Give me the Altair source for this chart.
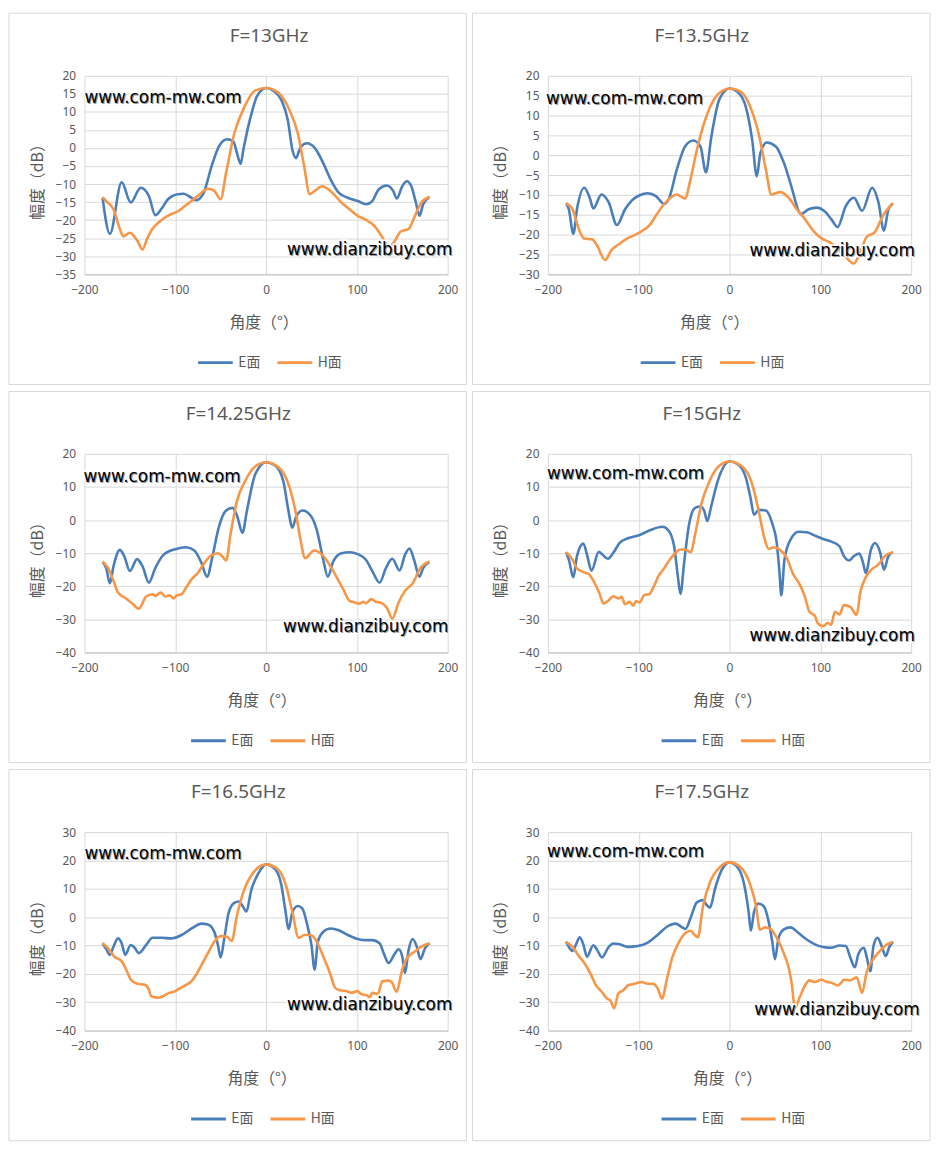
import altair as alt
import pandas as pd

# ---- measured radiation patterns (angle in degrees, gain in dB) ----
# F=13GHz
E13_ANG = [-180, -172, -159, -149, -138, -129, -122, -115, -108, -97, -91, -82, -77, -69, -60, -52, -43, -36, -32, -28,
           -25, -17, -10, 0, 8, 17, 24, 29, 33, 38, 45, 54, 63, 72, 80, 90, 101, 110, 117, 124,
           133, 140, 144, 150, 155, 160, 165, 169, 173, 180]
E13_DB = [-13.8, -23.8, -9.5, -15.1, -11, -13.3, -18.6, -16.8, -14.2, -12.8, -12.7, -13.8, -14.5, -12.6, -5.1, 0.4, 2.4, 1.8, -1.4, -4.4,
          -0.5, 8.6, 14.3, 16.6, 15.9, 13.2, 7.7, -0.5, -2.8, 0.2, 1.3, -0.1, -4.2, -9.2, -12.4, -13.8, -14.7, -15.6, -14.7, -11.5,
          -10.4, -11.9, -14, -10.6, -9.2, -10.6, -15.1, -18.8, -15.6, -13.6]
H13_ANG = [-180, -176, -168, -161, -157, -150, -142, -136, -131, -125, -118, -111, -104, -96, -89, -82, -73, -64, -57, -50,
           -44, -35, -24, -12, 0, 13, 26, 35, 42, 48, 53, 62, 72, 83, 92, 101, 110, 119, 128, 135,
           141, 148, 157, 164, 171, 180]
H13_DB = [-13.6, -14.7, -17, -22.4, -24.5, -23.5, -25.6, -28.1, -25.2, -22.4, -20.6, -19.2, -18.3, -17.4, -16, -14.7, -12.8, -11.3, -11.9, -14.2,
          -6.9, 4, 11.3, 15.9, 16.6, 15.4, 10.4, 4, -5.1, -12.8, -12, -10.6, -12.2, -15.1, -17, -18.8, -19.9, -21.5, -24.7, -27.4,
          -26.1, -23.2, -22.4, -18.8, -15.1, -13.6]

# F=13.5GHz
E135_ANG = [-180, -177, -172, -168, -160, -154, -150, -141, -133, -124, -115, -108, -99, -90, -81, -72, -67, -58, -49, -40,
            -32, -26, -20, -11, 0, 9, 18, 25, 30, 34, 41, 51, 60, 69, 76, 79, 87, 96, 105, 112,
            119, 128, 137, 146, 157, 164, 170, 175, 180]
E135_DB = [-12.1, -13.6, -19.8, -13.6, -8.2, -10.7, -13.4, -9.9, -11.9, -17.6, -13.6, -11.5, -10.1, -9.6, -10.3, -12.3, -11.1, -3.6, 2.2, 3.7,
           2.2, -4.3, 4.7, 14.2, 16.8, 15.9, 12.1, 3.8, -5.3, 0.5, 3.2, 2.2, -2, -8.6, -14, -14.8, -13.6, -13.2, -14.2, -16.1,
           -18.1, -12.8, -10.7, -14, -8.2, -11.9, -19, -13.6, -12.1]
H135_ANG = [-180, -173, -166, -160, -151, -146, -137, -130, -121, -112, -105, -97, -88, -81, -72, -65, -58, -49, -43, -36,
            -27, -14, 0, 13, 23, 32, 40, 46, 56, 65, 74, 83, 92, 101, 110, 119, 128, 137, 144, 151,
            160, 169, 180]
H135_DB = [-12.1, -13.6, -18.6, -21, -21.2, -22.7, -26.4, -23.9, -22.3, -20.9, -20.2, -19.2, -17.6, -15.2, -12.3, -10.7, -9.9, -10.9, -6.1, 1.3,
           8.8, 15, 16.8, 15.9, 12.1, 5.5, -3.6, -9.9, -9.3, -10.7, -13.6, -16.1, -19, -20.9, -21.9, -23.5, -25.6, -27.3, -24.4, -20.6,
           -19.4, -15.2, -12.1]

# F=14.25GHz
E1425_ANG = [-180, -176, -172, -168, -161, -156, -150, -142, -136, -129, -122, -113, -100, -88, -79, -71, -65, -59, -52, -44,
             -37, -32, -26, -21, -12, 0, 10, 19, 24, 29, 33, 40, 49, 56, 63, 68, 74, 83, 92, 101,
             110, 117, 125, 132, 139, 147, 153, 158, 163, 169, 173, 180]
E1425_DB = [-12.7, -14.5, -19.1, -14, -9, -11, -15.4, -11.8, -14, -18.9, -14.5, -10.5, -8.8, -8.2, -9.2, -13, -17.1, -11, -2.1, 2.9,
            3.7, 1.4, -3.8, 2.9, 13.8, 17.5, 16.5, 11.8, 3.9, -2.3, 0.9, 2.9, 1.4, -3.1, -12, -17.1, -12.5, -10, -9.7, -10.3,
            -12, -15.4, -18.9, -14.5, -11.7, -15.2, -10.5, -8.6, -12, -17.1, -14.5, -12.7]
H1425_ANG = [-180, -174, -168, -163, -154, -147, -140, -132, -125, -122, -116, -111, -106, -102, -98, -93, -88, -82, -75, -68,
             -61, -53, -48, -44, -39, -32, -23, -12, 0, 15, 26, 33, 38, 43, 53, 62, 71, 78, 85, 92,
             98, 103, 107, 110, 116, 121, 126, 134, 139, 146, 153, 162, 170, 180]
H1425_DB = [-12.5, -14.5, -18.4, -21.9, -23.7, -25.3, -26.8, -23.1, -22.4, -22.9, -21.9, -23.1, -22.7, -23.7, -22.7, -22.4, -20.4, -17.9, -15.9, -13,
            -10.8, -10, -11, -12.2, -4.1, 5.8, 11.8, 16.2, 17.5, 15.7, 9.8, 1.9, -6, -11.5, -9.2, -10.5, -14, -17.4, -20.9, -24.4,
            -24.9, -25.3, -24.7, -25.1, -23.9, -24.7, -24.9, -27, -29.8, -24.9, -21.4, -18.9, -14.5, -12.5]

# F=15GHz
E15_ANG = [-180, -177, -172, -168, -161, -157, -152, -144, -140, -134, -128, -121, -112, -99, -87, -74, -67, -61, -57, -54,
           -50, -45, -38, -32, -28, -24.5, -20, -13, 0, 9, 18, 23, 27, 32, 40, 47, 52, 55, 57, 60.5,
           67, 76, 85, 94, 103, 112, 121, 126, 131.5, 137, 143, 147, 150, 156, 160, 166, 170, 175, 180]
E15_DB = [-9.7, -11.9, -17.3, -10.9, -7.1, -10.4, -15.3, -9.6, -10.4, -11.7, -9.9, -6.9, -5.5, -4.5, -3, -2, -3.2, -7.9, -16.8, -22.3,
          -12.9, -2, 3.7, 4.1, 2.9, -0.3, 4.4, 11.8, 17.7, 16.9, 12.8, 6.9, 1.6, 3.1, 2.9, -1, -6.9, -15.8, -22.7, -11.9,
          -6, -3.5, -3.7, -4.7, -5.7, -6.5, -7.9, -10.9, -12.2, -10.9, -10.1, -12.9, -16, -8.7, -6.9, -9.9, -15, -10.9, -9.7]
H15_ANG = [-180, -173, -168, -160, -155, -150, -143, -139, -133, -128, -122, -119, -115, -110, -106, -103, -99, -94, -88, -83,
           -78, -72, -67, -61, -54, -49, -42.5, -38, -31, -22, -11, 0, 14, 25, 32, 38, 43, 49, 56, 63,
           70, 78, 83, 88, 94, 97, 103, 108, 112, 116, 121, 126, 133, 140, 144, 150, 157, 164, 171, 180]
H15_DB = [-9.7, -11.9, -14.6, -15.8, -16.3, -18.3, -22.3, -25.2, -24.2, -23, -23.7, -23.2, -25.4, -24.7, -25.9, -24.5, -24.9, -22.7, -22.3, -19.8,
          -16.8, -14.6, -12.4, -10.4, -8.9, -8.9, -9.7, -4.5, 4.9, 11.8, 16.5, 17.7, 16.2, 10.8, 2.9, -5, -8.7, -8.2, -9.1, -11.4,
          -16.3, -19.8, -23.2, -27.7, -28.9, -31.1, -32.1, -31.1, -31.6, -27.7, -28.5, -25.7, -26.2, -28.7, -21.8, -17.3, -14.8, -13.4, -10.9, -9.7]

# F=16.5GHz
E165_ANG = [-180, -176, -172, -168, -163, -159, -155, -149, -145, -140, -132, -125, -115, -104, -93, -82, -71, -64, -57, -53,
            -50, -46, -41, -35, -30, -25, -22, -16, -8, 0, 10, 17, 21, 25, 29, 35, 40, 45.5, 50, 53.5,
            57, 63, 71, 80, 90, 99, 108, 117, 125, 130, 135, 141, 146, 150, 153, 157, 161.5, 166, 170, 175, 180]
E165_DB = [-9.2, -11.3, -13.3, -10.4, -7.5, -9.2, -13.3, -9.8, -10.7, -12.7, -9.8, -7.3, -7.3, -7.5, -6.3, -4, -2.3, -2.6, -5.2, -9.8,
           -14.2, -7.5, 1.8, 5, 5.5, 3.5, 2, 9.9, 15.7, 18.6, 16.9, 11.1, 3, -4.2, 1.8, 3.9, 3, -2.9, -9.8, -18.5,
           -8.7, -5.2, -4, -4.6, -6.3, -7.5, -8.1, -8.1, -9.2, -13.1, -16.2, -13.3, -11.3, -13.9, -19.7, -11.6, -7.7, -10.4, -14.8, -11, -9.2]
H165_ANG = [-180, -174, -167, -159, -154, -149, -142, -134, -130, -126, -119, -113, -107, -102, -97, -89, -82, -77, -71, -64,
            -57, -50, -43, -38, -32, -25, -14, 0, 13, 22, 29, 36, 42, 49, 56, 63, 71, 76, 81, 89,
            94, 100.5, 105, 111, 114, 117, 123, 128, 135, 139, 143.5, 150, 155, 164, 171, 180]
H165_DB = [-9.2, -11, -13.9, -15.6, -18.5, -22, -23.5, -23.8, -24.9, -28, -28.4, -27.8, -26.7, -26.4, -25.5, -24.1, -22.6, -20.3, -16.8, -12.7,
           -8.7, -6.7, -6.9, -8.4, 0.6, 8.8, 15.7, 18.6, 16.9, 11.1, 1.8, -7.3, -6.3, -6.3, -8.7, -13.9, -20.3, -24.9, -25.8, -26.1,
           -26.7, -26.1, -27.2, -27.5, -28.4, -26.7, -27.2, -22.6, -22.4, -23.2, -26.3, -18.5, -14.5, -12.1, -10.4, -9.2]

# F=17.5GHz
E175_ANG = [-180, -177, -173, -169, -165, -161, -157, -150, -146, -140.5, -133, -128, -121, -112, -101, -90, -79, -68.5, -59.5, -52,
            -48.5, -43, -36, -29.5, -25, -21.5, -16, -9, 0, 9, 16, 21, 23.5, 27, 32, 38, 43, 47, 50, 54,
            59.5, 67, 76, 85, 94, 103, 112, 121, 128, 133, 138, 142, 148, 151, 155, 158.5, 163, 167.5, 172, 176, 180]
E175_DB = [-8.7, -10.5, -11.9, -9.6, -7.1, -9.6, -14, -9.9, -11.4, -14.2, -10.5, -9.3, -9.6, -10.5, -10.2, -9, -6.2, -3.3, -2.3, -3.6,
           -4.2, -0.4, 5.2, 6, 4.2, 3.3, 10, 16.4, 19.3, 17.5, 11.7, 1.9, -4.8, 1.9, 4.8, 3.7, -1.5, -8.5, -14.8, -7.3,
           -4.4, -3.6, -5.6, -7.9, -9.6, -10.5, -10.8, -10, -10.2, -14.2, -17.7, -12.9, -10.8, -14, -19.1, -10.2, -7.3, -10.2, -13.7, -10.5, -8.7]
H175_ANG = [-180, -173, -166, -159, -153, -148, -140.5, -135, -131.5, -127, -122.5, -117, -112, -104.5, -97, -90, -85, -79, -74.5, -68.5,
            -63, -56, -48.5, -43, -38.5, -35, -29, -21.5, -11, 0, 12.5, 23, 29, 33.5, 39.5, 45, 52, 59.5, 65, 68.5,
            72, 77.5, 83, 88, 94, 101, 108, 113.5, 119, 122.5, 126, 133, 140, 146, 151, 157, 164, 171, 180]
H175_DB = [-8.7, -10.5, -13.7, -16.6, -20, -23.5, -26.4, -28.7, -29.3, -32.1, -26.9, -25.8, -24.1, -23.5, -22.9, -23.5, -23.5, -25.2, -28.7, -21.2,
           -14.2, -9, -5.6, -4.8, -6.2, -7.1, 4.2, 12.3, 17.5, 19.3, 17.5, 11.2, 4.2, -4.4, -3.6, -4.1, -7.3, -12.5, -17.7, -23.5,
           -31.8, -28.1, -24.1, -22.3, -22.9, -22.1, -22.9, -23.3, -24.1, -23.3, -22.1, -22.3, -21.2, -26.7, -19.4, -15.4, -12.5, -10.2, -8.7]

TITLES = ["F=13GHz", "F=13.5GHz", "F=14.25GHz", "F=15GHz", "F=16.5GHz", "F=17.5GHz"]
Y_RANGES = [(-35, 20, 5), (-30, 20, 5), (-40, 20, 10), (-40, 20, 10), (-40, 30, 10), (-40, 30, 10)]
SERIES = [
    (E13_ANG, E13_DB, H13_ANG, H13_DB),
    (E135_ANG, E135_DB, H135_ANG, H135_DB),
    (E1425_ANG, E1425_DB, H1425_ANG, H1425_DB),
    (E15_ANG, E15_DB, H15_ANG, H15_DB),
    (E165_ANG, E165_DB, H165_ANG, H165_DB),
    (E175_ANG, E175_DB, H175_ANG, H175_DB),
]
PLANES = ["E面", "H面"]
WM_TOP = "www.com-mw.com"
WM_BOTTOM = "www.dianzibuy.com"

# ---- look & layout ----
COLORS = ["#4A7EBB", "#F79646"]
GREY_TEXT = "#595959"
GRID = "#d9d9d9"
FONT = "Noto Sans"
FONT_CN = "Noto Sans CJK SC"
W, H = 366, 200

# per-panel offsets relative to the plot origin (pixels)
TITLE_X = [186, 155, 155, 155, 155, 155]
XTITLE_X = [181, 168, 179, 181, 179, 181]
LEGEND_X = [113, 92, 106, 113, 106, 113]
WM_TOP_POS = [(0, 22), (-2, 23), (-1, 23), (-1, 20), (0, 22), (-1, 20)]
WM_BOTTOM_POS = [(204, 176), (203, 177), (200, 174), (203, 183), (204, 174), (208, 179)]


def label_text(text, x, y, **style):
    return alt.Chart(pd.DataFrame({"t": [text]})).mark_text(**style).encode(
        text="t:N", x=alt.value(x), y=alt.value(y)
    )


def watermark(text, pos):
    x, y = pos
    base = dict(font="DejaVu Sans", fontSize=17, align="left", baseline="middle")
    halo = label_text(text, x, y, color="white", stroke="white", strokeWidth=3, **base)
    shadow = label_text(text, x + 1, y + 1, color="#9a9a9a", **base)
    front = label_text(text, x, y, color="black", **base)
    return [halo, shadow, front]


def build_panel(i):
    e_ang, e_db, h_ang, h_db = SERIES[i]
    y_min, y_max, y_step = Y_RANGES[i]
    df = pd.concat([
        pd.DataFrame({"angle": e_ang, "db": e_db, "plane": PLANES[0]}),
        pd.DataFrame({"angle": h_ang, "db": h_db, "plane": PLANES[1]}),
    ], ignore_index=True)

    # light grey box around each panel
    frame = alt.Chart(pd.DataFrame({"t": [TITLES[i]]})).mark_rect(
        fillOpacity=0, stroke=GRID, strokeWidth=1
    ).encode(
        x=alt.value(-76), x2=alt.value(W + 19), y=alt.value(-63), y2=alt.value(H + 111)
    )

    lines = alt.Chart(df).mark_line(interpolate="monotone", strokeWidth=2.6).encode(
        x=alt.X(
            "angle:Q",
            scale=alt.Scale(domain=[-200, 200], nice=False),
            axis=alt.Axis(
                values=[-200, -100, 0, 100, 200], title=None, grid=True, gridColor=GRID,
                domainColor="#bfbfbf", ticks=False, labelFlush=False,
                labelColor=GREY_TEXT, labelFont=FONT, labelFontSize=12, labelPadding=10,
            ),
        ),
        y=alt.Y(
            "db:Q",
            scale=alt.Scale(domain=[y_min, y_max], nice=False, zero=False),
            axis=alt.Axis(
                values=list(range(y_min, y_max + 1, y_step)), title=None, grid=True, gridColor=GRID,
                domain=False, ticks=False, labelFlush=False, labelColor=GREY_TEXT, labelFont=FONT,
                labelFontSize=12, labelPadding=9,
            ),
        ),
        color=alt.Color(
            "plane:N",
            scale=alt.Scale(domain=PLANES, range=COLORS),
            legend=alt.Legend(
                title=None, orient="none", legendX=LEGEND_X[i], legendY=H + 70,
                direction="horizontal", symbolType="stroke", symbolSize=1225,
                symbolStrokeWidth=3, labelFont=FONT_CN, labelFontSize=14,
                labelColor=GREY_TEXT, labelOffset=4, columnPadding=10,
            ),
        ),
    )

    title = label_text(TITLES[i], TITLE_X[i], -40, font=FONT, fontSize=19,
                       color=GREY_TEXT, baseline="middle")
    x_title = label_text("角度（°）", XTITLE_X[i], H + 49, font=FONT_CN, fontSize=16,
                         color=GREY_TEXT, baseline="middle")
    y_title = label_text("幅度（dB）", -47, H / 2 + 3, font=FONT_CN, fontSize=16,
                         color=GREY_TEXT, baseline="middle", angle=270)

    layers = [frame, lines, title, x_title, y_title]
    layers += watermark(WM_TOP, WM_TOP_POS[i])
    layers += watermark(WM_BOTTOM, WM_BOTTOM_POS[i])
    return alt.layer(*layers).properties(width=W, height=H)


panels = [build_panel(i) for i in range(6)]

chart = alt.concat(
    *panels, columns=2, spacing={"row": 5, "column": 4}
).resolve_scale(
    color="independent"
).resolve_legend(
    color="independent"
).properties(
    padding=0
).configure_view(
    stroke=None
)

chart.save("out.html", embed_options={"renderer": "svg", "actions": False})
